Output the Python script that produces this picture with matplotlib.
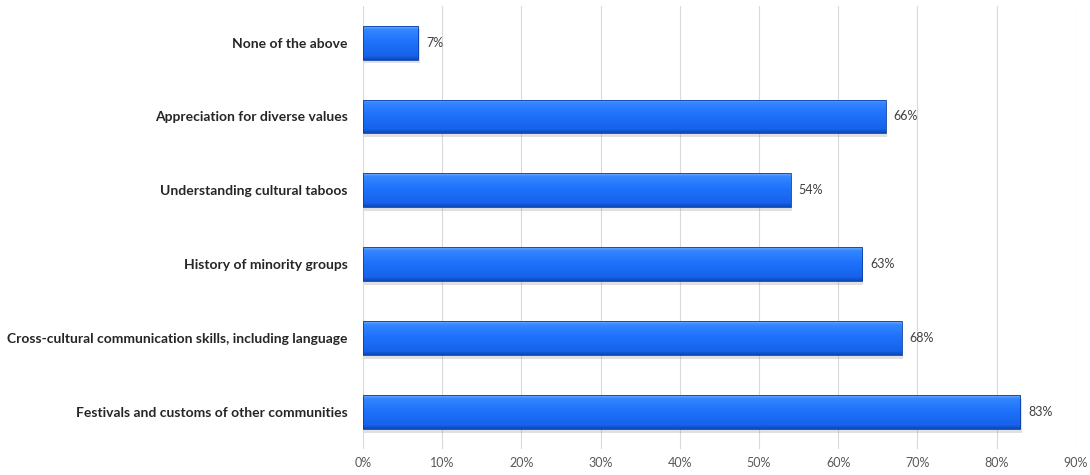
import numpy as np
import matplotlib.pyplot as plt
from matplotlib.patches import Rectangle
from matplotlib.colors import LinearSegmentedColormap

plt.rcParams['font.family'] = ['Lato', 'DejaVu Sans']

# ── data ──────────────────────────────────────────────────────────────────────
categories = [
    'Festivals and customs of other communities',
    'Cross-cultural communication skills, including language',
    'History of minority groups',
    'Understanding cultural taboos',
    'Appreciation for diverse values',
    'None of the above',
]
values = [83, 68, 63, 54, 66, 7]
x_ticks = [0, 10, 20, 30, 40, 50, 60, 70, 80, 90]

# ── figure ────────────────────────────────────────────────────────────────────
fig = plt.figure(figsize=(10.9, 4.75), dpi=100, facecolor='white')
ax = fig.add_axes([0.333, 0.055, 0.654, 0.933])

bar_h = 0.46
ypos = np.arange(len(categories))

# vertical gradient for the bevelled bar look (top light → bottom dark)
bar_cmap = LinearSegmentedColormap.from_list(
    'bevel', [(0.0, '#0b46b8'), (0.12, '#1762ea'), (0.55, '#1f72fb'),
              (0.9, '#3586ff'), (1.0, '#74b0ff')])
grad = np.linspace(0, 1, 256).reshape(-1, 1)

for y, v in zip(ypos, values):
    # soft shadow beneath the bar
    shadow = Rectangle((0.15, y - bar_h / 2 - 0.05), v, bar_h,
                       facecolor='#9a9a9a', alpha=0.3, edgecolor='none', zorder=2)
    ax.add_patch(shadow)
    rect = Rectangle((0, y - bar_h / 2), v, bar_h,
                     facecolor='none', edgecolor='#0a3fa8', linewidth=0.6, zorder=4)
    ax.add_patch(rect)
    im = ax.imshow(grad, extent=(0, v, y - bar_h / 2, y + bar_h / 2),
                   origin='lower', cmap=bar_cmap, aspect='auto', zorder=3)
    im.set_clip_path(rect)
    # value label next to the bar end
    ax.text(v + 1.0, y, f'{v}%', ha='left', va='center',
            fontsize=9, color='#404040', zorder=5)

ax.set_xlim(0, 90)
ax.set_ylim(-0.5, 5.5)
ax.set_xticks(x_ticks)
ax.set_xticklabels([f'{t}%' for t in x_ticks], fontsize=9, color='#595959')
ax.set_yticks(ypos)
ax.set_yticklabels(categories, fontsize=10, fontweight='bold', color='#262626')
ax.tick_params(axis='x', length=0, pad=6)
ax.tick_params(axis='y', length=0, pad=10.8)

ax.grid(axis='x', color='#d9d9d9', linewidth=0.8, zorder=0)
ax.set_axisbelow(True)
for s in ax.spines.values():
    s.set_visible(False)

fig.savefig('out.png', dpi=100, facecolor='white')
